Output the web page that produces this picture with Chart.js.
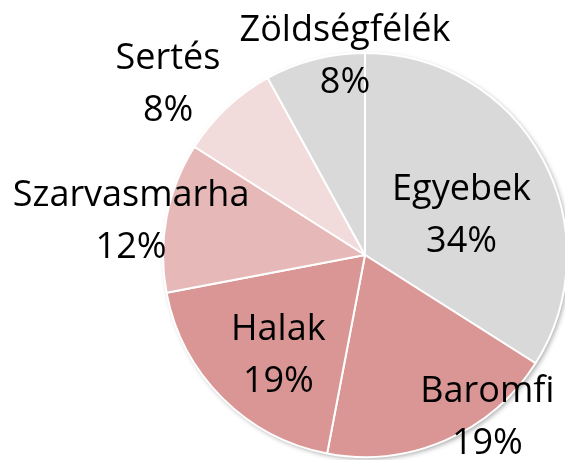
<!DOCTYPE html>
<html>
<head>
<meta charset="utf-8">
<script src="https://cdn.jsdelivr.net/npm/chart.js@4/dist/chart.umd.min.js"></script>
<style>
    html, body { margin: 0; padding: 0; background: #ffffff; overflow: hidden; }
    #wrap { width: 570px; height: 460px; }
</style>
</head>
<body>
<div id="wrap"><canvas id="pieChart" width="570" height="460"></canvas></div>
<script>
// ==================== Data ====================
const categories = ['Egyebek', 'Baromfi', 'Halak', 'Szarvasmarha', 'Sertés', 'Zöldségfélék'];
const shares = [34, 19, 19, 12, 8, 8];
const shareLabels = ['34%', '19%', '19%', '12%', '8%', '8%'];

// ==================== Styles ====================
const sliceColors = ['#d9d9d9', '#d99694', '#d99694', '#e6b9b8', '#f2dcdb', '#d9d9d9'];
// label block centres, relative to the pie centre in units of the radius
const labelOffsets = [
    [0.478, -0.204],
    [0.606, 0.793],
    [-0.429, 0.488],
    [-1.158, -0.177],
    [-0.975, -0.855],
    [-0.099, -0.993]
];
const labelFont = '36px "Open Sans"';

// shadow behind the pie
const pieShadow = {
    id: 'pieShadow',
    beforeDatasetsDraw(chart) {
        const arc = chart.getDatasetMeta(0).data[0];
        if (!arc) return;
        const ctx = chart.ctx;
        ctx.save();
        ctx.shadowColor = 'rgba(0, 0, 0, 0.35)';
        ctx.shadowBlur = 5;
        ctx.shadowOffsetX = 2;
        ctx.shadowOffsetY = 2;
        ctx.fillStyle = '#ffffff';
        ctx.beginPath();
        ctx.arc(arc.x, arc.y, arc.outerRadius, 0, Math.PI * 2);
        ctx.fill();
        ctx.restore();
    }
};

// two-line data labels (name + percent)
const sliceLabels = {
    id: 'sliceLabels',
    afterDatasetsDraw(chart) {
        const arcs = chart.getDatasetMeta(0).data;
        const ctx = chart.ctx;
        ctx.save();
        ctx.font = labelFont;
        ctx.fillStyle = '#000000';
        ctx.textAlign = 'center';
        ctx.textBaseline = 'alphabetic';
        arcs.forEach((arc, i) => {
            const r = arc.outerRadius;
            const cx = arc.x + labelOffsets[i][0] * r;
            const cy = arc.y + labelOffsets[i][1] * r;
            ctx.fillText(categories[i], cx, cy - 13.5);
            ctx.fillText(shareLabels[i], cx, cy + 38.5);
        });
        ctx.restore();
    }
};

const ctx = document.getElementById('pieChart').getContext('2d');
new Chart(ctx, {
    type: 'pie',
    data: {
        labels: categories,
        datasets: [{
            data: shares,
            backgroundColor: sliceColors,
            borderColor: '#ffffff',
            borderWidth: 2,
            hoverOffset: 0
        }]
    },
    options: {
        responsive: false,
        animation: false,
        layout: {
            padding: { left: 162, right: 2, top: 52, bottom: 2 }
        },
        plugins: {
            legend: { display: false },
            tooltip: { enabled: false }
        }
    },
    plugins: [pieShadow, sliceLabels]
});
</script>
</body>
</html>
